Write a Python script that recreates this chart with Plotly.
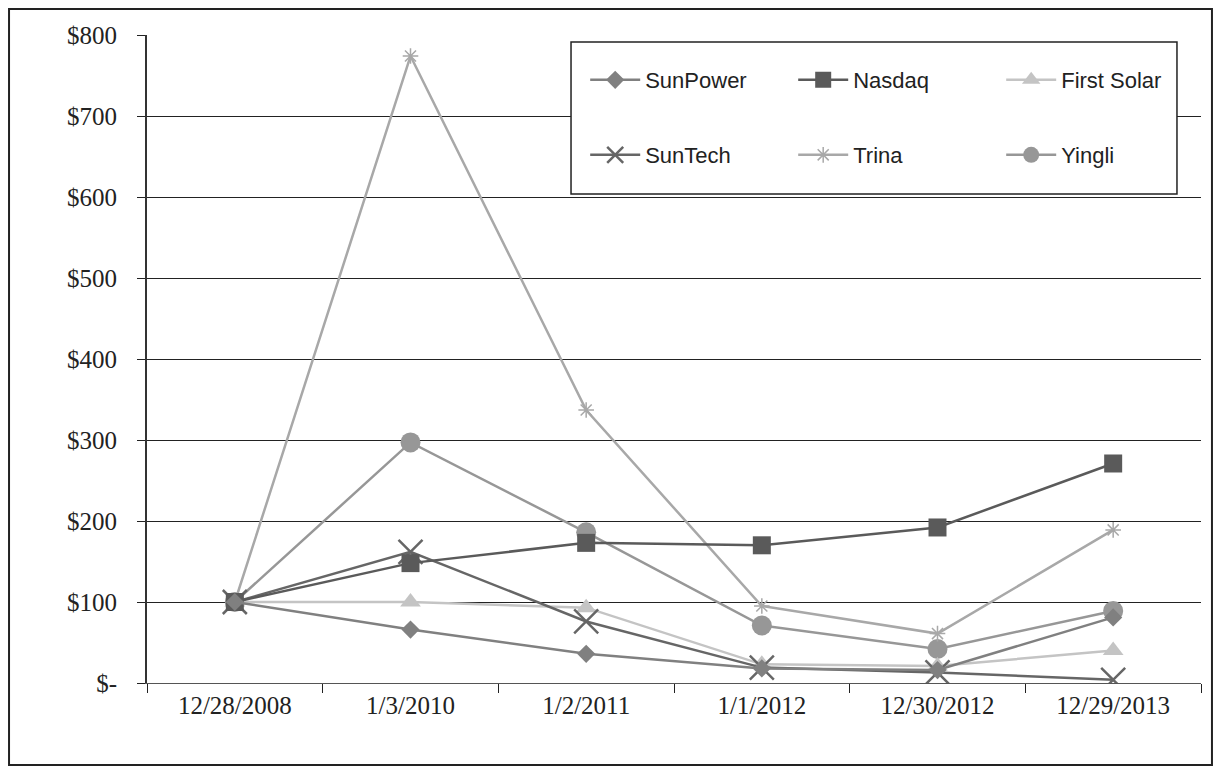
import plotly.graph_objects as go

dates = ["12/28/2008", "1/3/2010", "1/2/2011", "1/1/2012", "12/30/2012", "12/29/2013"]

sunpower = [100, 66, 36, 18, 16, 81]
nasdaq = [100, 148, 173, 170, 192, 271]
first_solar = [100, 100, 93, 23, 21, 40]
suntech = [100, 162, 76, 19, 13, 4]
trina = [100, 774, 337, 95, 61, 189]
yingli = [100, 297, 186, 71, 42, 89]

y_ticks = [0, 100, 200, 300, 400, 500, 600, 700, 800]
y_ticktext = ["$-", "$100", "$200", "$300", "$400", "$500", "$600", "$700", "$800"]

series = [
    # name, values, color, symbol, size, marker line width, legend, rank
    ("Yingli", yingli, "#979797", "circle", 20, 0, "legend2", 3),
    ("Trina", trina, "#a8a8a8", "asterisk-open", 13, 1.5, "legend2", 2),
    ("First Solar", first_solar, "#c4c4c4", "triangle-up", 18, 0, "legend", 3),
    ("SunTech", suntech, "#666666", "x-thin-open", 24, 2.5, "legend2", 1),
    ("Nasdaq", nasdaq, "#5a5a5a", "square", 18, 0, "legend", 2),
    ("SunPower", sunpower, "#808080", "diamond", 14, 0, "legend", 1),
]

fig = go.Figure()
for name, vals, color, sym, size, mlw, leg, rank in series:
    marker = dict(symbol=sym, size=size, color=color)
    if mlw:
        marker["line"] = dict(color=color, width=mlw)
    fig.add_trace(go.Scatter(
        x=dates, y=vals, name=name, mode="lines+markers",
        line=dict(color=color, width=2.5),
        marker=marker, legend=leg, legendrank=rank,
    ))

legend_common = dict(
    orientation="h", xanchor="left", yanchor="middle",
    xref="container", yref="container",
    font=dict(family="Liberation Sans, Arial, sans-serif", size=22, color="#222222"),
    bgcolor="rgba(0,0,0,0)", borderwidth=0,
    entrywidth=143, entrywidthmode="pixels", itemwidth=50,
)

fig.update_layout(
    width=1205, height=758,
    margin=dict(l=139, r=12, t=27, b=83, autoexpand=False),
    paper_bgcolor="white", plot_bgcolor="white",
    showlegend=True,
    legend=dict(x=0.479, y=0.905, **legend_common),
    legend2=dict(x=0.479, y=0.806, **legend_common),
    xaxis=dict(
        type="category", range=[-0.5, 5.5],
        showline=True, linecolor="#555555", linewidth=1,
        ticks="outside", tickson="boundaries", ticklen=9, tickcolor="#222222", tickwidth=1,
        showgrid=False,
        tickfont=dict(family="Liberation Serif, Times New Roman, serif", size=25, color="#222222"),
    ),
    yaxis=dict(
        range=[0, 800], tickvals=y_ticks, ticktext=y_ticktext,
        showline=True, linecolor="#333333", linewidth=2,
        ticks="outside", ticklen=8, tickcolor="#222222", tickwidth=1,
        showgrid=True, gridcolor="#222222", gridwidth=1, zeroline=False,
        ticklabelstandoff=15,
        tickfont=dict(family="Liberation Serif, Times New Roman, serif", size=25, color="#222222"),
    ),
    shapes=[
        dict(type="rect", xref="paper", yref="paper",
             x0=-0.1309, x1=1.0104, y0=-0.1265, y1=1.0401,
             line=dict(color="#222222", width=2), fillcolor="rgba(0,0,0,0)", layer="below"),
        dict(type="rect", xref="paper", yref="paper",
             x0=0.4023, x1=0.9772, y0=0.7546, y1=0.9892,
             line=dict(color="#222222", width=1.5), fillcolor="white", layer="above"),
    ],
)

fig.write_html("out.html")
